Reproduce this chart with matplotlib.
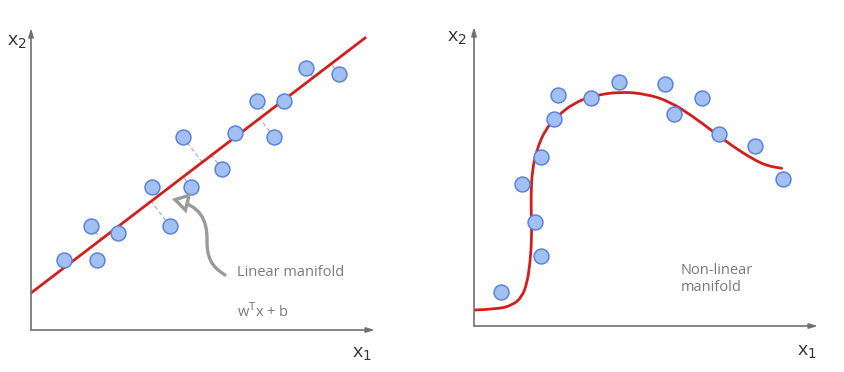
import matplotlib
matplotlib.use("Agg")
import matplotlib.pyplot as plt
from matplotlib.patches import FancyArrowPatch, PathPatch
from matplotlib.path import Path
import numpy as np

plt.rcParams['font.family'] = ['Open Sans', 'DejaVu Sans']

# left panel: points around a straight line
lin_x = [33, 66, 60, 87, 121, 139, 160, 152, 191, 204, 226, 243, 253, 275, 308]
lin_y = [70, 70, 104, 97, 143, 104, 143, 193, 161, 197, 229, 193, 229, 262, 256]
line_x = [0, 334]
line_y = [37, 292]
# points that get a dashed projection onto the line
proj_idx = [2, 4, 5, 6, 7, 8, 10, 11, 13, 14]

# right panel: points around a curved manifold
nl_x = [27, 48, 61, 67, 67, 80, 84, 117, 145, 191, 200, 228, 245, 281, 309]
nl_y = [34, 142, 104, 70, 169, 207, 231, 228, 244, 242, 212, 228, 192, 180, 147]
curve_x = [0, 23, 39, 48, 53, 56, 57.7, 57.3, 57, 58.3, 62.7, 71, 82.7, 99.3,
           119.3, 146, 172.7, 196, 219.3, 239.3, 259.3, 279.3, 292.7, 307.7]
curve_y = [16, 16.7, 21, 29.3, 42.7, 62.7, 86, 109.3, 132.7, 156, 176, 196,
           209.3, 222.7, 230.3, 234.3, 232, 224.3, 209.3, 194.3, 179.3, 166.7,
           160.3, 157.7]

W, H = 844, 372
RED = '#d01f1f'
FILL = '#a3c0f2'
EDGE = '#5a84d8'
GREY = '#7a7a7a'
AXC = '#707070'

fig = plt.figure(figsize=(W / 100, H / 100), dpi=100)


def make_axes(ox, oy, w, h):
    ax = fig.add_axes([ox / W, (H - oy) / H, w / W, h / H])
    ax.set_xlim(0, w)
    ax.set_ylim(0, h)
    ax.axis('off')
    for end in [(w, 0), (0, h)]:
        ax.annotate('', xy=end, xytext=(0, 0),
                    arrowprops=dict(arrowstyle='-|>,head_length=0.5,head_width=0.15',
                                    color=AXC, lw=1.2, shrinkA=0, shrinkB=0),
                    annotation_clip=False)
    return ax


def smooth_path(xs, ys):
    # quadratic bezier through the midpoints, knots act as control points
    pts = list(zip(xs, ys))
    verts = [pts[0]]
    codes = [Path.MOVETO]
    for i in range(1, len(pts) - 1):
        mid = ((pts[i][0] + pts[i + 1][0]) / 2, (pts[i][1] + pts[i + 1][1]) / 2)
        verts += [pts[i], mid]
        codes += [Path.CURVE3, Path.CURVE3]
    verts.append(pts[-1])
    codes.append(Path.LINETO)
    return Path(verts, codes)


# ---- left
ax1 = make_axes(31, 330, 344, 302)
ax1.plot(line_x, line_y, color=RED, lw=2, zorder=2)
p0 = np.array([line_x[0], line_y[0]], float)
d = np.array([line_x[1] - line_x[0], line_y[1] - line_y[0]], float)
d /= np.linalg.norm(d)
for i in proj_idx:
    p = np.array([lin_x[i], lin_y[i]], float)
    foot = p0 + np.dot(p - p0, d) * d
    ax1.plot([p[0], foot[0]], [p[1], foot[1]], color='#b8b8b8', lw=1,
             ls=(0, (3, 2)), zorder=1)
ax1.scatter(lin_x, lin_y, s=115, c=FILL, edgecolors=EDGE, linewidths=1.1,
            zorder=3, clip_on=False)

verts = [(194, 55), (180, 64), (176, 72), (176, 90),
         (176, 110), (170, 124), (141, 131)]
codes = [Path.MOVETO] + [Path.CURVE4] * 6
arr = FancyArrowPatch(path=Path(verts, codes),
                      arrowstyle='-|>,head_length=9,head_width=5.5',
                      fc='white', ec='#9a9a9a', lw=2.4, joinstyle='miter',
                      zorder=4)
ax1.add_patch(arr)
ax1.text(206, 57, 'Linear manifold', color=GREY, fontsize=10.5,
         va='center', ha='left')
ax1.text(206, 18, r'w$^{\mathrm{T}}$x + b', color=GREY, fontsize=10.5,
         va='center', ha='left')
ax1.text(-14, 288, r'x$_2$', fontsize=14, color='#333333', ha='center',
         va='center')
ax1.text(331, -24, r'x$_1$', fontsize=14, color='#333333', ha='center',
         va='center')

# ---- right
ax2 = make_axes(474, 326, 344, 299)
ax2.add_patch(PathPatch(smooth_path(curve_x, curve_y), fill=False, ec=RED,
                        lw=2, zorder=2, capstyle='round'))
ax2.scatter(nl_x, nl_y, s=115, c=FILL, edgecolors=EDGE, linewidths=1.1,
            zorder=3, clip_on=False)
ax2.text(207, 47, 'Non-linear\nmanifold', color=GREY, fontsize=10.5,
         va='center', ha='left', linespacing=1.25)
ax2.text(-17, 288, r'x$_2$', fontsize=14, color='#333333', ha='center',
         va='center')
ax2.text(333, -26, r'x$_1$', fontsize=14, color='#333333', ha='center',
         va='center')

fig.savefig('out.png', dpi=100)
